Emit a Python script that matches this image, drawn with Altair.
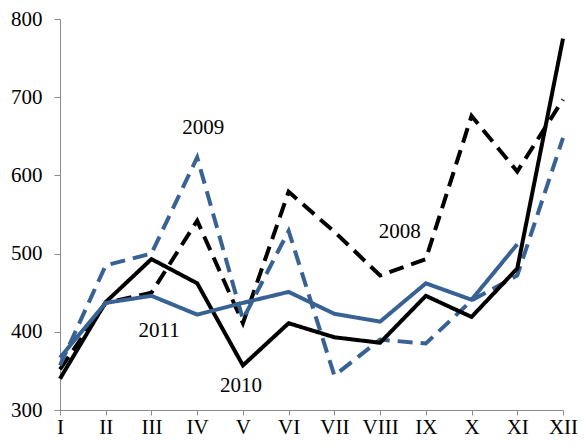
import altair as alt
import pandas as pd

months = ["I", "II", "III", "IV", "V", "VI", "VII", "VIII", "IX", "X", "XI", "XII"]
series_names = ["2008", "2009", "2010", "2011"]
y2008 = [352, 437, 450, 542, 411, 579, 528, 472, 493, 676, 605, 697]
y2009 = [357, 485, 500, 623, 416, 529, 344, 390, 385, 440, 472, 648]
y2010 = [340, 438, 493, 462, 357, 411, 393, 386, 446, 419, 481, 775]
y2011 = [367, 437, 446, 422, 437, 451, 423, 413, 462, 441, 512]

label_text = ["2008", "2009", "2010", "2011"]
label_x = [8.43, 4.13, 4.96, 3.17]
label_y = [527, 660, 331, 401]

rows = []
for name, vals in zip(series_names, [y2008, y2009, y2010, y2011]):
    for i, v in enumerate(vals):
        rows.append({"m": i + 1, "series": name, "value": v})
df = pd.DataFrame(rows)
labels = pd.DataFrame({"text": label_text, "x": label_x, "y": label_y})

label_expr = "[" + ",".join("'%s'" % m for m in months) + "][datum.value - 1]"

x_scale = alt.Scale(domain=[1, 12], nice=False, zero=False)
y_scale = alt.Scale(domain=[300, 800], nice=False, zero=False)

axis_style = dict(grid=False, domainColor="#8c8c8c", tickColor="#8c8c8c",
                  labelColor="#000000", labelFont="Liberation Serif",
                  labelFontSize=21, domainWidth=1, tickWidth=1)

lines = alt.Chart(df).mark_line(strokeWidth=4).encode(
    x=alt.X("m:Q", scale=x_scale, title=None,
            axis=alt.Axis(values=list(range(1, 13)), labelExpr=label_expr,
                          tickSize=5, labelPadding=1, labelFlush=False, **axis_style)),
    y=alt.Y("value:Q", scale=y_scale, title=None,
            axis=alt.Axis(values=[300, 400, 500, 600, 700, 800],
                          tickSize=6, labelPadding=12, **axis_style)),
    color=alt.Color("series:N", legend=None,
                    scale=alt.Scale(domain=series_names,
                                    range=["#000000", "#386294", "#000000", "#386294"])),
    strokeDash=alt.StrokeDash("series:N", legend=None,
                              scale=alt.Scale(domain=series_names,
                                              range=[[15, 8], [15, 8], [1, 0], [1, 0]])),
    order=alt.Order("m:Q"),
)

text = alt.Chart(labels).mark_text(font="Liberation Serif", fontSize=21, color="#000000",
                                   align="center", baseline="middle").encode(
    x=alt.X("x:Q", scale=x_scale),
    y=alt.Y("y:Q", scale=y_scale),
    text="text:N",
)

chart = (lines + text).properties(
    width=503, height=391,
    autosize=alt.AutoSizeParams(type="none"),
    padding={"left": 52, "top": 11, "right": 15, "bottom": 27},
).configure_view(stroke=None)

chart.save("out.html", embed_options={"renderer": "svg", "actions": False})
